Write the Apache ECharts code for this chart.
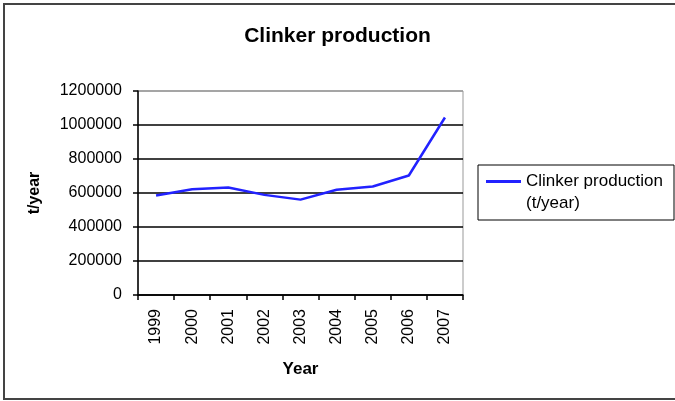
<!DOCTYPE html>
<html>
<head>
<meta charset="utf-8">
<script src="https://cdn.jsdelivr.net/npm/echarts@6/dist/echarts.min.js"></script>
<style>html,body{margin:0;padding:0;background:#fff;}#c{width:675px;height:401px;}</style>
</head>
<body>
<div id="c"></div>
<script>
const years = ['1999','2000','2001','2002','2003','2004','2005','2006','2007'];
const production = [585000, 622000, 632000, 589000, 561000, 619000, 638000, 703000, 1044000];
const yTicks = [0, 200000, 400000, 600000, 800000, 1000000, 1200000];

const FONT = '"Liberation Sans", Arial, sans-serif';
const chart = echarts.init(document.getElementById('c'));
chart.setOption({
  backgroundColor: '#fff',
  animation: false,
  textStyle: { fontFamily: FONT },
  title: {
    text: 'Clinker production',
    left: 'center', top: 21,
    textStyle: { fontFamily: FONT, fontWeight: 'bold', fontSize: 21, color: '#000' }
  },
  grid: { left: 138, right: 212, top: 91, bottom: 106, show: true, borderColor: '#999', borderWidth: 1, backgroundColor: '#fff' },
  legend: {
    left: 478, top: 165,
    orient: 'vertical',
    padding: [8, 11, 30, 8],
    borderColor: '#000', borderWidth: 1,
    itemWidth: 35, itemHeight: 3,
    icon: 'rect',
    data: [{ name: 'Clinker production (t/year)', icon: 'rect' }],
    formatter: () => 'Clinker production',
    textStyle: { fontFamily: FONT, fontSize: 17, color: '#000' }
  },
  graphic: [
    { type: 'rect', shape: { x: 4, y: 4, width: 690, height: 395 }, style: { fill: 'none', stroke: '#444', lineWidth: 2 }, silent: true },
    { type: 'text', left: 526, top: 195, style: { text: '(t/year)', font: '17px ' + FONT, fill: '#000' } }
  ],
  xAxis: {
    type: 'category', data: years, boundaryGap: true,
    name: 'Year', nameLocation: 'middle', nameGap: 66,
    nameTextStyle: { fontFamily: FONT, fontWeight: 'bold', fontSize: 17, color: '#000' },
    axisLine: { lineStyle: { color: '#000', width: 1.5 } },
    axisTick: { show: true, alignWithLabel: false, length: 5, lineStyle: { color: '#000', width: 1.5 } },
    axisLabel: { rotate: 90, margin: 14, fontSize: 16, color: '#000', fontFamily: FONT, interval: 0 },
    splitLine: { show: false }
  },
  yAxis: {
    type: 'value', min: yTicks[0], max: yTicks[yTicks.length - 1], interval: 200000,
    name: 't/year', nameLocation: 'middle', nameGap: 95, nameRotate: 90,
    nameTextStyle: { fontFamily: FONT, fontWeight: 'bold', fontSize: 16, color: '#000' },
    axisLine: { show: true, lineStyle: { color: '#000', width: 1.5 } },
    axisTick: { show: true, length: 5, lineStyle: { color: '#000', width: 1.5 } },
    axisLabel: { margin: 16, fontSize: 16, color: '#000', fontFamily: FONT, formatter: v => String(v) },
    splitLine: { show: true, lineStyle: { color: ['#000','#000','#000','#000','#000','#000','#999'], width: 1.5 } }
  },
  series: [{
    name: 'Clinker production (t/year)',
    type: 'line', data: production,
    symbol: 'none', smooth: false,
    lineStyle: { color: '#2222ff', width: 2.5 },
    itemStyle: { color: '#2222ff' }
  }]
});
</script>
</body>
</html>
